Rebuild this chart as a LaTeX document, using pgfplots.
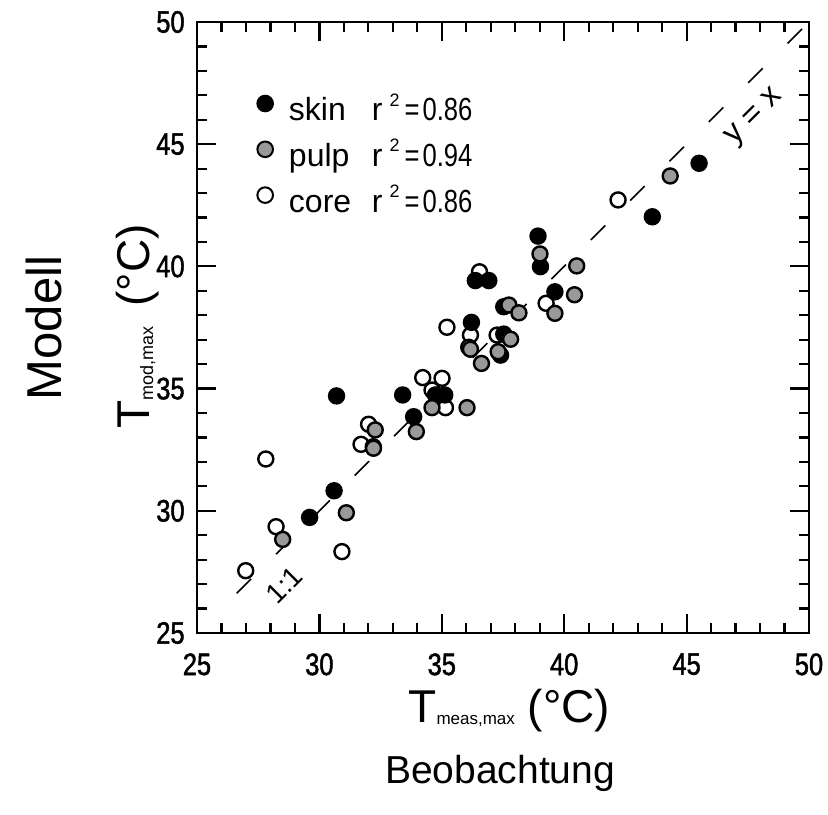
\documentclass[border=0pt]{standalone}
\usepackage{fontspec}
\setmainfont{Liberation Sans}
\newfontfamily\tickfont[FakeStretch=0.82,FakeBold=1.5]{Liberation Sans}
\newfontfamily\narrowfont[FakeStretch=0.8]{Liberation Sans}
\usepackage{pgfplots}
\pgfplotsset{compat=1.18}
\definecolor{pulpgray}{RGB}{153,153,153}
\newcommand{\rsq}[1]{r\hspace{3.5pt}\raisebox{0.85ex}{\fontsize{9}{9}\selectfont 2}\hspace{2.5pt}{\narrowfont=\hspace{1.5pt}#1}}
\begin{document}
\begin{tikzpicture}
\begin{scope}[x=0.5pt,y=-0.5pt,yshift=407pt]
\path[use as bounding box] (0,0) rectangle (828,814);
\end{scope}
\begin{axis}[
  at={(98.5pt,90.5pt)}, anchor=south west,
  width=306pt, height=305.5pt, scale only axis,
  xmin=25, xmax=50, ymin=25, ymax=50,
  xtick={25,30,...,50}, ytick={25,30,...,50},
  minor tick num=4,
  tick align=inside,
  major tick length=9.5pt, minor tick length=5pt,
  axis line style={line width=1.4pt},
  every tick/.style={black, line width=1.1pt},
  /pgf/number format/assume math mode=true,
  xticklabel style={font=\tickfont\fontsize{15.5}{15.5}\selectfont, inner sep=0pt, yshift=-10pt},
  yticklabel style={font=\tickfont\fontsize{15.5}{15.5}\selectfont, inner sep=0pt, xshift=-6pt},
  clip=false,
  legend style={at={(axis cs:27.45,47.0)}, anchor=north west, draw=none, fill=none,
    inner sep=0pt, font=\fontsize{16}{16}\selectfont, row sep=7.5pt, column sep=8pt,
    nodes={inner sep=0pt, text height=10pt, text depth=3pt}},
  legend cell align=left,
  legend image code/.code={\draw[#1, mark size=3.9pt] plot coordinates {(0pt,5pt)};},
]
\addlegendimage{only marks, mark=*, line width=1pt, draw=black, fill=black}
\addlegendentry{\makebox[41.5pt][l]{skin}\rsq{0.86}}
\addlegendimage{only marks, mark=*, line width=1pt, draw=black, fill=pulpgray}
\addlegendentry{\makebox[41.5pt][l]{pulp}\rsq{0.94}}
\addlegendimage{only marks, mark=*, line width=1pt, draw=black, fill=white}
\addlegendentry{\makebox[41.5pt][l]{core}\rsq{0.86}}

% 1:1 line
\addplot[forget plot, black, line width=0.8pt, dash pattern=on 10.25pt off 17.55pt] coordinates {(26.62,26.62) (50,50)};

% core
\addplot[forget plot, only marks, mark=*, mark size=3.75pt, line width=1.2pt, draw=black, fill=white] coordinates {
(26.99,27.55) (27.81,32.12) (28.23,29.35) (30.92,28.33) (31.70,32.72) (32.01,33.54)
(34.22,35.45) (35.01,35.42) (34.6,34.94) (35.15,34.22) (35.21,37.51) (36.17,37.19)
(36.1,36.69) (36.54,39.78) (37.26,37.19) (39.26,38.49) (42.2,42.72)
};
% skin
\addplot[forget plot, only marks, mark=*, mark size=3.75pt, line width=1.2pt, draw=black, fill=black] coordinates {
(29.6,29.73) (30.6,30.82) (30.7,34.7) (33.4,34.74) (33.85,33.85) (34.74,34.74)
(35.12,34.74) (36.21,37.71) (36.37,39.42) (36.92,39.42) (37.53,38.35) (37.53,37.23)
(37.4,36.37) (38.93,41.24) (39.03,39.99) (39.62,38.96) (43.6,42.03) (45.51,44.22)
(32.2,32.62)
};
% pulp
\addplot[forget plot, only marks, mark=*, mark size=3.75pt, line width=1.2pt, draw=black, fill=pulpgray] coordinates {
(28.5,28.83) (31.1,29.92) (32.28,33.31) (32.21,32.56) (33.96,33.24) (34.6,34.22)
(36.03,34.22) (36.17,36.61) (36.62,36.03) (37.3,36.51) (37.81,37.02) (37.74,38.42)
(38.15,38.1) (39.01,40.51) (40.51,40.02) (40.42,38.84) (39.62,38.08) (44.33,43.7)
};
\end{axis}
\begin{scope}[x=0.5pt,y=-0.5pt,yshift=407pt]
\node[inner sep=0pt, anchor=base west, font=\fontsize{23}{23}\selectfont] at (408,722) {T\raisebox{-1pt}{\fontsize{8.5}{8.5}\selectfont meas,max} (°C)};
\node[inner sep=0pt, anchor=base west, rotate=90, font=\fontsize{23}{23}\selectfont] at (149,429) {T\raisebox{-2pt}{\fontsize{9}{9}\selectfont mod,max}\hspace{3.5pt} (°C)};
\node[inner sep=0pt, font=\fontsize{19.5}{19.5}\selectfont] at (500,773) {Beobachtung};
\node[inner sep=0pt, rotate=90, font=\fontsize{24.5}{24.5}\selectfont] at (44,328) {Modell};
\node[inner sep=0pt, rotate=45, font=\fontsize{14}{14}\selectfont] at (284,585) {1:1};
\node[inner sep=0pt, rotate=45, font=\fontsize{16}{16}\selectfont] at (755,118) {y = x};
\end{scope}
\end{tikzpicture}
\end{document}
